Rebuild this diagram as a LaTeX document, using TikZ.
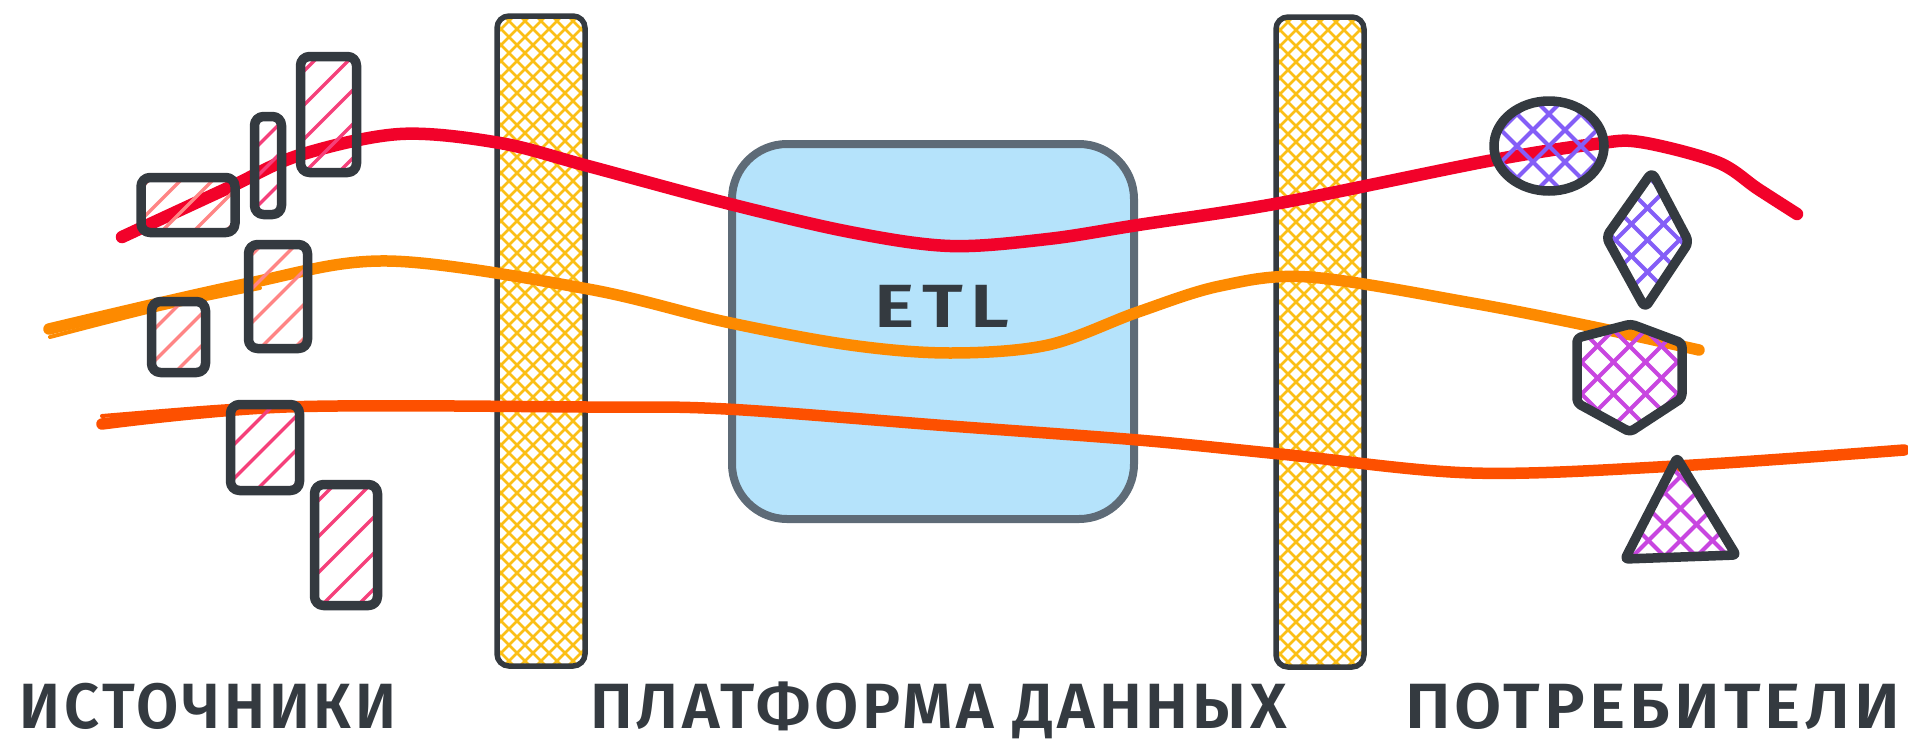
\documentclass[tikz,border=0pt]{standalone}
\usepackage{fontspec}
\setmainfont{Fira Sans}[BoldFont={Fira Sans SemiBold}]
\usetikzlibrary{calc}

\definecolor{ink}{HTML}{343A40}
\definecolor{etlfill}{RGB}{181,227,251}
\definecolor{etlline}{RGB}{94,107,119}
\definecolor{flowred}{HTML}{F2022A}
\definecolor{floworange}{HTML}{FD8A00}
\definecolor{flowrust}{HTML}{FD5000}
\definecolor{barhatch}{HTML}{FBBF16}
\definecolor{pinkhatch}{HTML}{F5407A}
\definecolor{salmonhatch}{HTML}{FF8585}
\definecolor{violethatch}{HTML}{845EF7}
\definecolor{grapehatch}{HTML}{C846E0}

\tikzset{
  % one family of "/" strokes, clipped to the shape
  hatchone/.style n args={3}{
    path picture={
      \foreach \i in {-12,...,12}{
        \draw[#1, line width=#3, line cap=round]
          ($(path picture bounding box.center)+(\i*#2-300,300)$) -- ++(600,-600);
      }}},
  % two crossing families of strokes, clipped to the shape
  crosshatch/.style n args={3}{
    path picture={
      \foreach \i in {-30,...,30}{
        \draw[#1, line width=#3]
          ($(path picture bounding box.center)+(\i*#2-500,500)$) -- ++(1000,-1000);
        \draw[#1, line width=#3]
          ($(path picture bounding box.center)+(\i*#2-500,-500)$) -- ++(1000,1000);
      }}},
  srcbox/.style={draw=ink, line width=9.5pt, rounded corners=9pt, inner sep=0pt, line join=round},
  barbox/.style={draw=ink, line width=5.5pt, rounded corners=12pt, inner sep=0pt,
    crosshatch={barhatch}{16}{2.6pt}},
  consumer/.style={draw=ink, line width=9.5pt, line join=round, line cap=round},
  flow/.style={line width=#1, line cap=round, line join=round},
  caption/.style={text=ink, inner sep=0pt, anchor=base},
}

\begin{document}
\begin{tikzpicture}[x=1pt, y=-1pt]
  \useasboundingbox (0,0) rectangle (1908,742);

  % ingestion and delivery layers
  \node[barbox, minimum width=88pt, minimum height=650pt] (inbar)  at (541,341) {};
  \node[barbox, minimum width=88pt, minimum height=650pt] (outbar) at (1320,342) {};

  % processing block
  \node[draw=etlline, fill=etlfill, line width=8pt, rounded corners=55pt,
        minimum width=402pt, minimum height=375pt, inner sep=0pt] (etl) at (933,331.5) {};
  \node[text=ink, inner sep=0pt] (etllabel) at (942,306)
    {\resizebox{135pt}{\height}{\fontsize{61}{61}\selectfont\bfseries\addfontfeatures{LetterSpace=10}ETL}};

  % data flows
  \draw[flow=12.5pt, flowred] plot[smooth, tension=0.55] coordinates {
    (122,237) (230,187) (300,155) (400,134) (500,143) (588,166) (726,203)
    (850,232) (950,246) (1048,239) (1138,225) (1280,203) (1488,161)
    (1595,144) (1640,142) (1717,162) (1758,189) (1797,214)};
  \draw[flow=11.5pt, floworange] plot[smooth, tension=0.55] coordinates {
    (49,329) (245,284) (388,261) (588,289) (726,322) (850,345) (950,353)
    (1048,345) (1138,312) (1220,286) (1309,277) (1472,303) (1594,327) (1699,350)};
  \draw[flow=4pt, floworange] plot[smooth, tension=0.55] coordinates {
    (50,337) (160,309) (260,288)};
  \draw[flow=11.5pt, flowrust] plot[smooth, tension=0.55] coordinates {
    (102,424) (286,407) (588,407) (726,409) (950,426) (1138,440)
    (1280,454) (1472,473) (1676,466) (1904,450)};
  \draw[flow=4pt, flowrust] plot[smooth, tension=0.55] coordinates {
    (102,416) (200,408) (290,402)};

  % sources
  \node[srcbox, minimum width=94pt, minimum height=55pt,  hatchone={salmonhatch}{32}{3.5pt}] (s1) at (188,205) {};
  \node[srcbox, minimum width=27pt, minimum height=98pt,  hatchone={pinkhatch}{30}{3.5pt}]   (s2) at (268,165.5) {};
  \node[srcbox, minimum width=56pt, minimum height=116pt, hatchone={pinkhatch}{34}{3.5pt}]   (s3) at (328.5,114.5) {};
  \node[srcbox, minimum width=54pt, minimum height=71pt,  hatchone={salmonhatch}{32}{3.5pt}] (s4) at (178.5,337) {};
  \node[srcbox, minimum width=59pt, minimum height=104pt, hatchone={salmonhatch}{34}{3.5pt}] (s5) at (278,296.5) {};
  \node[srcbox, minimum width=69pt, minimum height=86pt,  hatchone={pinkhatch}{34}{3.5pt}]   (s6) at (265,447.5) {};
  \node[srcbox, minimum width=63pt, minimum height=121pt, hatchone={pinkhatch}{36}{3.5pt}]   (s7) at (346,545) {};

  % consumers
  \draw[consumer, crosshatch={violethatch}{32}{4pt}]
    (1549,146) ellipse [x radius=55, y radius=45];
  \draw[consumer, rounded corners=6pt, crosshatch={violethatch}{32}{4pt}]
    (1652,172) -- (1689,242) -- (1645,308) -- (1606,237) -- cycle;
  \draw[consumer, rounded corners=4pt, crosshatch={grapehatch}{32}{4pt}]
    (1631,324) -- (1682,343) -- (1682,398) -- (1630,432) -- (1577,403) -- (1577,338) -- cycle;
  \draw[consumer, rounded corners=3pt, crosshatch={grapehatch}{32}{4pt}]
    (1677,458) -- (1736,555) -- (1625,559) -- cycle;

  % captions
  \node[caption] (capsrc) at (208,728)
    {\resizebox{376pt}{\height}{\fontsize{64}{64}\selectfont\bfseries\addfontfeatures{LetterSpace=6}ИСТОЧНИКИ}};
  \node[caption] (capplat) at (938.5,728)
    {\resizebox{697pt}{\height}{\fontsize{64}{64}\selectfont\bfseries\addfontfeatures{LetterSpace=6}ПЛАТФОРМА ДАННЫХ}};
  \node[caption] (capcons) at (1652.5,728)
    {\resizebox{495pt}{\height}{\fontsize{64}{64}\selectfont\bfseries\addfontfeatures{LetterSpace=6}ПОТРЕБИТЕЛИ}};
\end{tikzpicture}
\end{document}
